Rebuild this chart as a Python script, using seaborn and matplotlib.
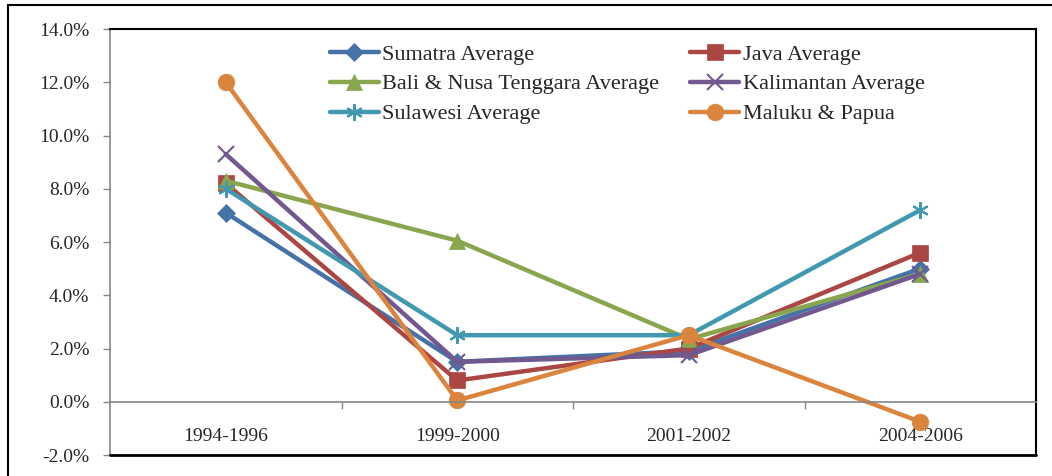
import numpy as np
import pandas as pd
import matplotlib
matplotlib.use('Agg')
import matplotlib.pyplot as plt
import matplotlib.patches as mpatches
from matplotlib.ticker import FuncFormatter, FixedLocator
import seaborn as sns

# Data (growth rate, %)
periods = ['1994-1996', '1999-2000', '2001-2002', '2004-2006']
regions = ['Sumatra Average', 'Java Average', 'Bali & Nusa Tenggara Average',
           'Kalimantan Average', 'Sulawesi Average', 'Maluku & Papua']
sumatra = [7.1, 1.5, 1.9, 5.0]
java = [8.2, 0.8, 2.0, 5.6]
bali_nusa = [8.3, 6.05, 2.35, 4.8]
kalimantan = [9.3, 1.5, 1.75, 4.8]
sulawesi = [8.0, 2.5, 2.5, 7.2]
maluku_papua = [12.0, 0.05, 2.5, -0.75]

colors = ['#4572A7', '#AA4643', '#89A54E', '#71588F', '#4198AF', '#DB843D']
markers = ['D', 's', '^', 'x', (6, 2, 0), 'o']
msizes = [9.5, 11, 11, 11, 12, 12]

values = [sumatra, java, bali_nusa, kalimantan, sulawesi, maluku_papua]
df = pd.DataFrame({
    'period': periods * len(regions),
    'region': np.repeat(regions, len(periods)),
    'growth': np.concatenate(values) / 100.0,
})

sns.set_style('white')
plt.rcParams['font.family'] = ['Liberation Serif', 'DejaVu Serif']

fig = plt.figure(figsize=(10.52, 4.76), dpi=100)
ax = fig.add_axes([110 / 1052, 1 - 455 / 476, 926 / 1052, 426 / 476])

for reg, col, mk, ms in zip(regions, colors, markers, msizes):
    sub = df[df['region'] == reg]
    sns.lineplot(data=sub, x='period', y='growth', ax=ax, color=col,
                 marker=mk, markersize=ms, linewidth=3.2, label=reg,
                 markeredgecolor=col, markeredgewidth=1.5 if mk in ('x', (6, 2, 0)) else 0.5,
                 sort=False)

ax.set_ylim(-0.02, 0.14)
ax.set_xlim(-0.5, 3.5)
ax.set_yticks(np.arange(-0.02, 0.1401, 0.02))
ax.yaxis.set_major_formatter(FuncFormatter(lambda v, p: f'{v * 100:.1f}%'))
ax.set_xlabel('')
ax.set_ylabel('')

# axis styling (Excel look)
gray = '#868686'
for s in ['top', 'right']:
    ax.spines[s].set_color('black')
    ax.spines[s].set_linewidth(1.5)
ax.spines['left'].set_color(gray)
ax.spines['left'].set_linewidth(1.2)
ax.spines['bottom'].set_position(('data', 0))
ax.spines['bottom'].set_color(gray)
ax.spines['bottom'].set_linewidth(1.2)
ax.axhline(-0.02, color='black', lw=2, clip_on=False, zorder=5)

ax.tick_params(axis='y', which='major', direction='out', length=5, width=1,
               color=gray, labelsize=14, pad=10, left=True)
ax.tick_params(axis='x', which='major', length=0, labelsize=14, pad=19, bottom=True)
ax.xaxis.set_minor_locator(FixedLocator([0.5, 1.5, 2.5]))
ax.tick_params(axis='x', which='minor', direction='out', length=5, width=1,
               color=gray, bottom=True)

# legend fills row by row in the reference
handles, labels = ax.get_legend_handles_labels()
order = [0, 2, 4, 1, 3, 5]
leg = ax.legend([handles[i] for i in order], [labels[i] for i in order],
                loc='upper left', bbox_to_anchor=(330 / 1052, 1 - 44 / 476),
                bbox_transform=fig.transFigure, ncol=2, frameon=False,
                fontsize=16, handlelength=2.2, handletextpad=0.15,
                columnspacing=1.4, labelspacing=0.42, borderpad=0, borderaxespad=0)

# outer chart border
fig.patches.append(mpatches.Rectangle((8 / 1052, -0.1), 1.2, 1.1 - 5 / 476,
                                      transform=fig.transFigure, fill=False,
                                      edgecolor='black', lw=1.5))

fig.savefig('out.png', dpi=100)
plt.close(fig)
